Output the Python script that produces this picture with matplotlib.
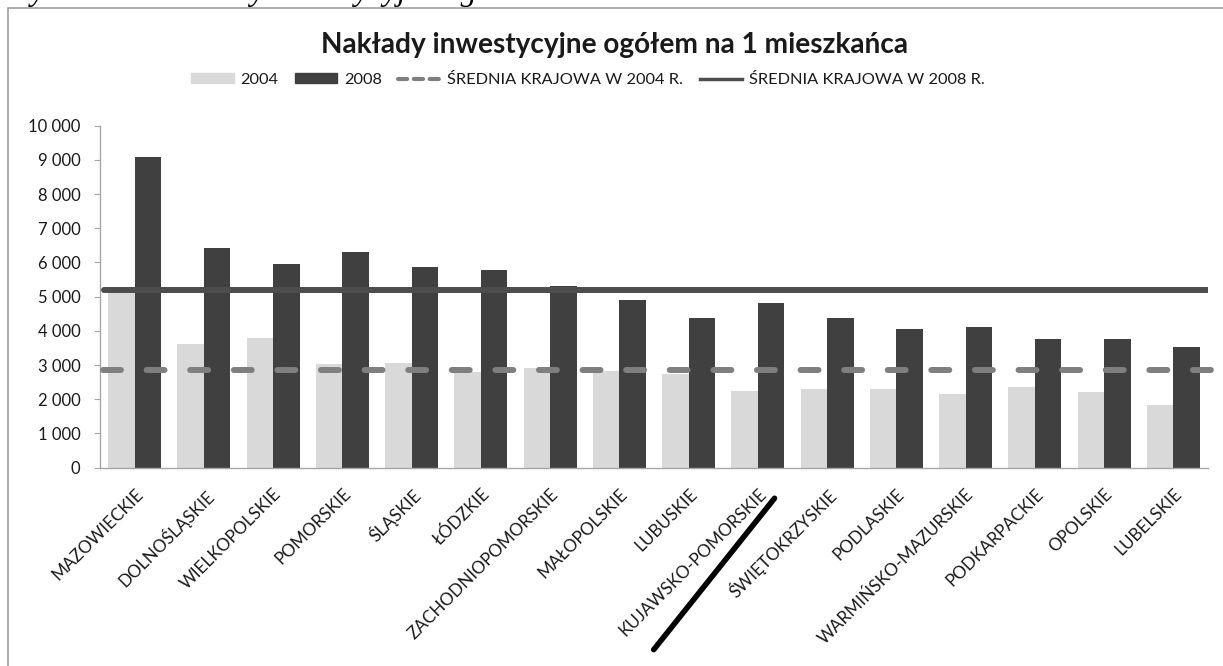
import matplotlib
matplotlib.use("Agg")
import matplotlib.pyplot as plt
import numpy as np
from matplotlib.patches import Rectangle, Patch
from matplotlib.lines import Line2D
from matplotlib.ticker import FuncFormatter, MultipleLocator
from matplotlib.transforms import offset_copy

plt.rcParams['font.family'] = ['Lato', 'DejaVu Sans']

wojewodztwa = ["MAZOWIECKIE", "DOLNOŚLĄSKIE", "WIELKOPOLSKIE", "POMORSKIE", "ŚLĄSKIE",
               "ŁÓDZKIE", "ZACHODNIOPOMORSKIE", "MAŁOPOLSKIE", "LUBUSKIE",
               "KUJAWSKO-POMORSKIE", "ŚWIĘTOKRZYSKIE", "PODLASKIE",
               "WARMIŃSKO-MAZURSKIE", "PODKARPACKIE", "OPOLSKIE", "LUBELSKIE"]
rok_2004 = [5250, 3610, 3780, 3030, 3050, 2790, 2905, 2840, 2730, 2240,
            2300, 2310, 2155, 2350, 2205, 1825]
rok_2008 = [9090, 6410, 5945, 6305, 5870, 5790, 5300, 4900, 4390, 4825,
            4390, 4045, 4120, 3755, 3755, 3530]
srednia_2004 = 2860
srednia_2008 = 5200
podkreslony = "KUJAWSKO-POMORSKIE"

c_2004 = '#d9d9d9'
c_2008 = '#404040'
c_sr04 = '#7f7f7f'
c_sr08 = '#4d4d4d'

fig = plt.figure(figsize=(12.23, 6.66), dpi=100)
ax = fig.add_axes([100/1223, 1 - 467.7/666, 1108/1223, (467.7 - 125.7)/666])

x = np.arange(len(wojewodztwa))
w = 0.383
ax.bar(x - w/2, rok_2004, w, color=c_2004, zorder=2)
ax.bar(x + w/2, rok_2008, w, color=c_2008, zorder=2)

# linie srednich krajowych
ax.axhline(srednia_2008, xmin=0.004, xmax=1.0, color=c_sr08, lw=4.3,
           solid_capstyle='round', zorder=3)
ax.axhline(srednia_2004, xmin=0.003, xmax=1.003, color=c_sr04, lw=4.3,
           linestyle=(0, (3, 4.3)), dash_capstyle='round', zorder=3, clip_on=False)

ax.set_xlim(-0.5, len(wojewodztwa) - 0.5)
ax.set_ylim(0, 10000)
ax.yaxis.set_major_locator(MultipleLocator(1000))
ax.yaxis.set_major_formatter(FuncFormatter(lambda v, p: f"{int(v):,}".replace(",", " ")))

for s in ['top', 'right']:
    ax.spines[s].set_visible(False)
ax.spines['left'].set_color('#a6a6a6')
ax.spines['bottom'].set_color('#a6a6a6')
ax.spines['left'].set_linewidth(1.0)
ax.spines['bottom'].set_linewidth(1.0)
ax.tick_params(axis='y', length=4, color='#a6a6a6', pad=10, labelsize=12, labelcolor='#1a1a1a')
ax.tick_params(axis='x', length=0, pad=13)
ax.set_xticks(x)
ax.set_xticklabels(wojewodztwa, rotation=45, ha='right', rotation_mode='anchor',
                   fontsize=12.3, color='#1a1a1a')

# podkreslenie jednej etykiety
i = wojewodztwa.index(podkreslony)
ax.annotate('', xy=(i, 0), xytext=(i, 0),
            xycoords=offset_copy(ax.transData, fig=fig, x=12, y=-22, units='points'),
            textcoords=offset_copy(ax.transData, fig=fig, x=-75, y=-131, units='points'),
            arrowprops=dict(arrowstyle='-', lw=4, color='black', shrinkA=0, shrinkB=0),
            annotation_clip=False)

fig.text(614/1223, 1 - 45/666, "Nakłady inwestycyjne ogółem na 1 mieszkańca",
         ha='center', va='center', fontsize=20.2, fontweight='bold', color='#1a1a1a')

handles = [Patch(color=c_2004), Patch(color=c_2008),
           Line2D([], [], color=c_sr04, lw=3, linestyle=(0, (2.2, 1.6)), dash_capstyle='round'),
           Line2D([], [], color=c_sr08, lw=2.5)]
labels = ["2004", "2008", "ŚREDNIA KRAJOWA W 2004 R.", "ŚREDNIA KRAJOWA W 2008 R."]
fig.legend(handles, labels, loc='center', bbox_to_anchor=(588/1223, 1 - 80/666), ncol=4,
           frameon=False, fontsize=11.8, handlelength=2.6, handleheight=0.55,
           columnspacing=1.0, handletextpad=0.4, labelcolor='#1a1a1a')

# ramka wykresu
fig.add_artist(Rectangle((8/1223, -0.05), 1.2, 1 - 8/666 + 0.05, transform=fig.transFigure,
                         fill=False, edgecolor='#a0a0a0', lw=1.2))

# podpis nad ramka (uciety, widac tylko dolne kreski liter)
fig.text(12/1223, 1 - 7/666, "Rysunek 4. Nakłady inwestycyjne ogółem na 1 mieszkańca",
         ha='left', va='bottom', fontsize=23, style='italic',
         family=['Liberation Serif', 'DejaVu Serif'])

fig.savefig("out.png", dpi=100)
